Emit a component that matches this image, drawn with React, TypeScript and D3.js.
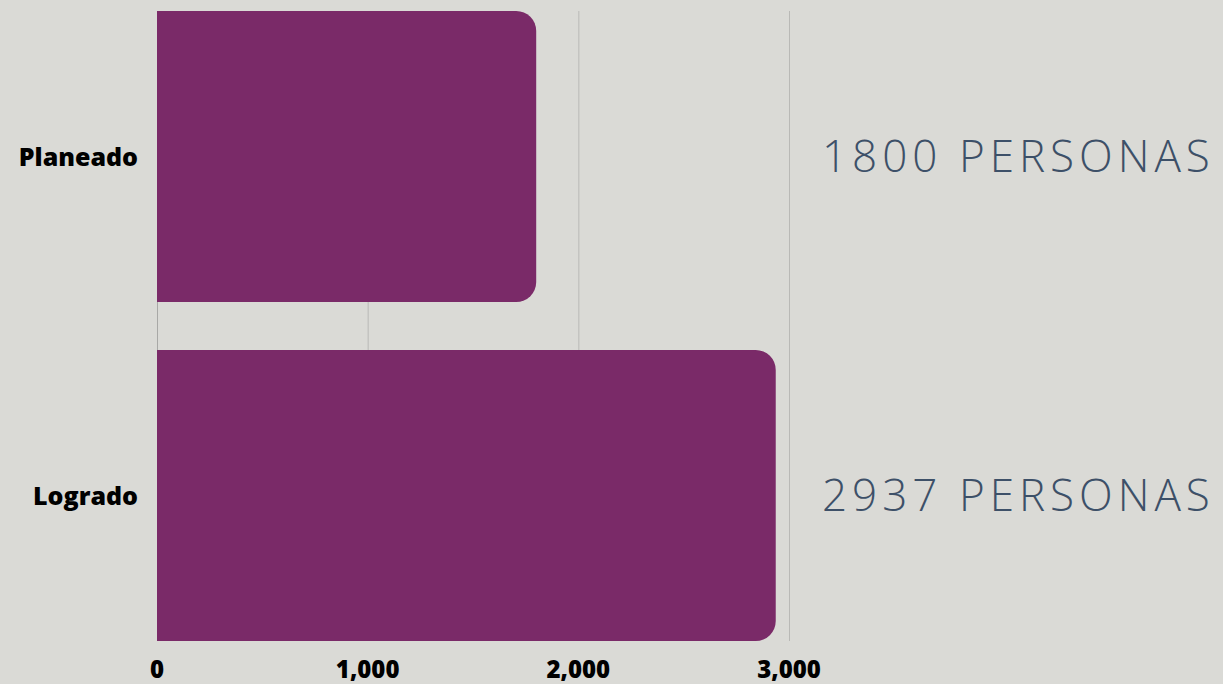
import React, { useEffect, useRef } from "react";
import * as d3 from "d3";

const categories = ["Planeado", "Logrado"];
const values = [1800, 2937];
const valueLabels = ["1800 PERSONAS", "2937 PERSONAS"];
const tickValues = [0, 1000, 2000, 3000];

const W = 1223;
const H = 684;

const App = () => {
    const svgRef = useRef<SVGSVGElement>(null);

    useEffect(() => {
        const svg = d3.select(svgRef.current);
        svg.selectAll("*").remove();

        const x = d3.scaleLinear().domain([0, 3000]).range([157, 789]);
        const y = d3
            .scaleBand()
            .domain(categories)
            .range([11, 641])
            .paddingInner(48 / 339)
            .paddingOuter(0);

        svg.append("rect").attr("width", W).attr("height", H).attr("fill", "#dadad6");

        // gridlines
        svg.append("g")
            .selectAll("line")
            .data(tickValues)
            .enter()
            .append("line")
            .attr("x1", (d) => x(d) + 0.5)
            .attr("x2", (d) => x(d) + 0.5)
            .attr("y1", 11)
            .attr("y2", 641)
            .attr("stroke", (d) => (d === 0 ? "#a8a8a6" : "#b9b9b6"))
            .attr("stroke-width", 1);

        const r = 20;
        svg.append("g")
            .selectAll("path")
            .data(values)
            .enter()
            .append("path")
            .attr("d", (d, i) => {
                const x0 = x(0);
                const x1 = x(d);
                const y0 = y(categories[i])!;
                const y1 = y0 + y.bandwidth();
                return `M${x0},${y0}H${x1 - r}A${r},${r} 0 0 1 ${x1},${y0 + r}V${y1 - r}A${r},${r} 0 0 1 ${x1 - r},${y1}H${x0}Z`;
            })
            .attr("fill", "#7a2a68");

        svg.append("g")
            .selectAll("text")
            .data(categories)
            .enter()
            .append("text")
            .attr("x", 138)
            .attr("y", (d) => y(d)! + y.bandwidth() / 2 + 9)
            .attr("text-anchor", "end")
            .attr("font-family", "'Open Sans', sans-serif")
            .attr("font-weight", 800)
            .attr("font-size", 25)
            .attr("fill", "#000")
            .text((d) => d);

        svg.append("g")
            .selectAll("text")
            .data(tickValues)
            .enter()
            .append("text")
            .attr("x", (d) => x(d))
            .attr("y", 678)
            .attr("text-anchor", "middle")
            .attr("font-family", "'Open Sans', sans-serif")
            .attr("font-weight", 800)
            .attr("font-size", 24)
            .attr("fill", "#000")
            .text((d) => d3.format(",")(d));

        svg.append("g")
            .selectAll("text")
            .data(valueLabels)
            .enter()
            .append("text")
            .attr("x", 822)
            .attr("y", (_d, i) => y(categories[i])! + y.bandwidth() / 2)
            .attr("dy", "0.35em")
            .attr("font-family", "'Open Sans', sans-serif")
            .attr("font-weight", 300)
            .attr("font-size", 44)
            .attr("letter-spacing", 5)
            .attr("fill", "#3d5068")
            .text((d) => d);
    }, []);

    return (
        <svg
            ref={svgRef}
            width={W}
            height={H}
            style={{ position: "absolute", left: 0, top: 0, display: "block" }}
        ></svg>
    );
};

export default App;
